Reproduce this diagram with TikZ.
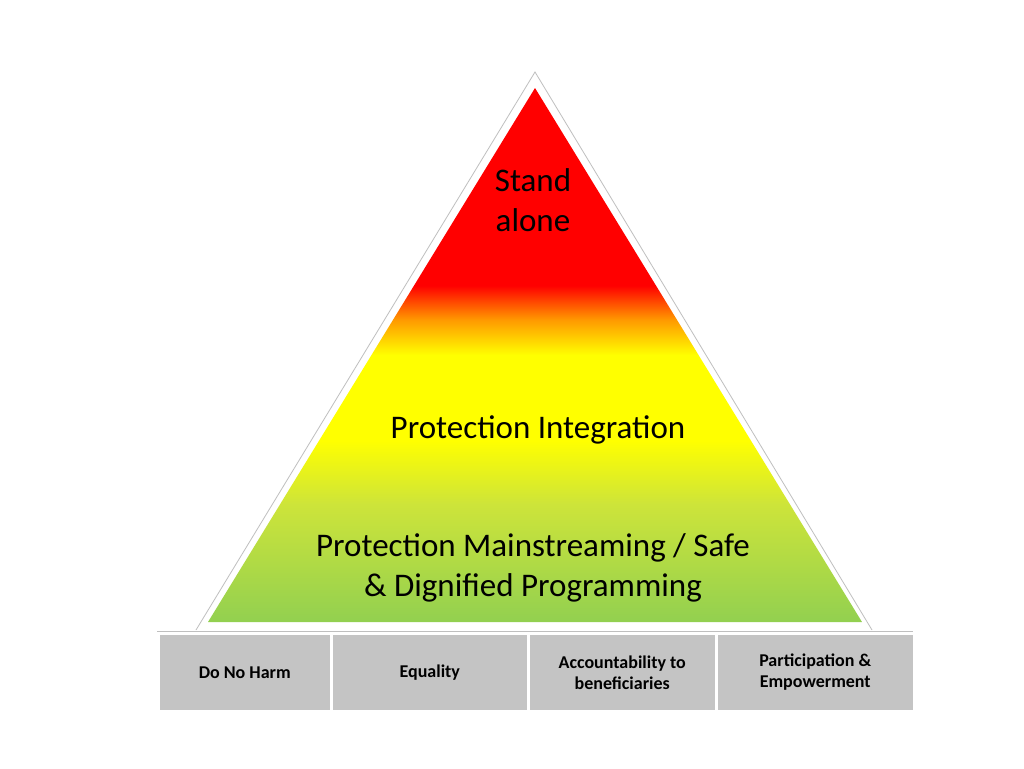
\documentclass[tikz,border=0pt]{standalone}
\usepackage{fontspec}
\setmainfont{Carlito}
\definecolor{pg}{HTML}{92D050}
\definecolor{yg}{HTML}{CDE43A}
\definecolor{pyel}{HTML}{FFFF00}
\definecolor{pora}{HTML}{FF9900}
\definecolor{pred}{HTML}{FF0000}
\definecolor{boxg}{HTML}{C4C4C4}
\pgfdeclareverticalshading{pyr}{100bp}{color(0bp)=(pg);color(25bp)=(pg);color(36bp)=(yg);color(42bp)=(pyel);color(50bp)=(pyel);color(53.3bp)=(pora);color(56.5bp)=(pred);color(100bp)=(pred)}
\begin{document}
\begin{tikzpicture}[x=1pt,y=-1pt,
  bx/.style={draw=white,line width=2.5pt,fill=boxg,minimum height=78pt,anchor=north west,inner sep=0pt,font=\bfseries\fontsize{18}{21}\selectfont,align=center},
  big/.style={font=\fontsize{33}{40}\selectfont,align=center}]
\useasboundingbox (0,0) rectangle (1024,768);
\fill[white] (0,0) rectangle (1024,768);
\draw[black!25,line width=0.8pt] (196,630) -- (535,72) -- (872,630);
\draw[black!25,line width=0.8pt] (157,631) -- (913,631);
\shade[shading=pyr] (208,622) -- (535,88) -- (862,622) -- cycle;
\node[big] (sa) at (533,200) {Stand\\alone};
\node[big] (pi) at (538,430) {Protection Integration};
\node[big] (pm) at (533,568) {Protection Mainstreaming / Safe\\\& Dignified Programming};
\node[bx,minimum width=173pt] (b1) at (157,632) {Do No Harm};
\node[bx,minimum width=197pt] (b2) at (330,632) {Equality};
\node[bx,minimum width=188pt] (b3) at (527,632) {Accountability to\\beneficiaries};
\node[bx,minimum width=198pt] (b4) at (715,632) {Participation \&\\Empowerment};
\end{tikzpicture}
\end{document}
